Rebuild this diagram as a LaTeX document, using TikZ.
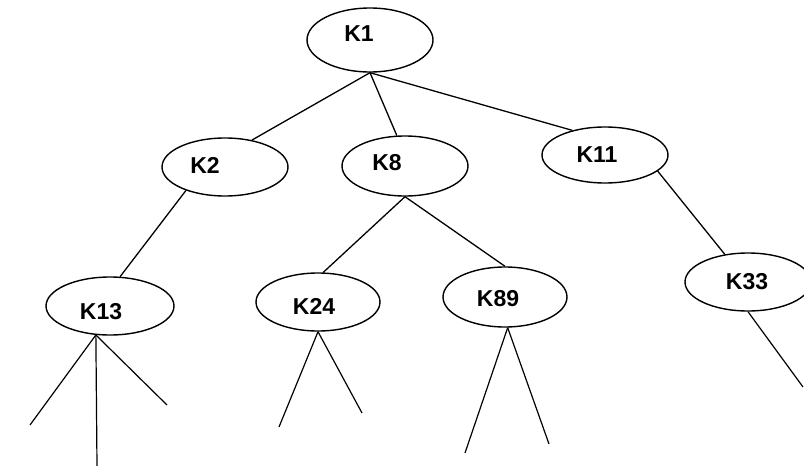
\documentclass[tikz,border=0pt]{standalone}
\usepackage{fontspec}
\setmainfont{Liberation Sans}
\usetikzlibrary{shapes.geometric}

\begin{document}
\begin{tikzpicture}[x=1pt,y=-1pt,line width=1.3pt,
		key/.style={ellipse,draw,line width=1.4pt,inner sep=0pt,minimum width=126pt,minimum height=58pt},
		tag/.style={inner sep=0pt,font=\fontsize{23}{27}\selectfont\bfseries},
		branch/.style={line width=1.2pt}
		]
			\useasboundingbox (0,0) rectangle (804,466);
			% keys
			\node[key,minimum height=64pt,label={[tag,xshift=-11pt,yshift=6pt]center:K1}] (K1) at (370,40) {};
			\node[key,label={[tag,xshift=-20pt,yshift=2pt]center:K2}] (K2) at (225,167) {};
			\node[key,minimum height=60pt,label={[tag,xshift=-18pt,yshift=3pt]center:K8}] (K8) at (405,166) {};
			\node[key,minimum height=56pt,label={[tag,xshift=-8pt]center:K11}] (K11) at (605,155) {};
			\node[key,minimum width=128pt,label={[tag,xshift=-9pt,yshift=-6pt]center:K13}] (K13) at (110,306) {};
			\node[key,minimum width=124pt,label={[tag,xshift=-4pt,yshift=-4pt]center:K24}] (K24) at (318,302) {};
			\node[key,minimum width=124pt,minimum height=60pt,label={[tag,xshift=-7pt,yshift=-2pt]center:K89}] (K89) at (505,297) {};
			\node[key,label={[tag,xshift=-1pt]center:K33}] (K33) at (748,282) {};
			% loose ends
			\coordinate (l1) at (30,425);
			\coordinate (l2) at (97,466);
			\coordinate (l3) at (167,405);
			\coordinate (l4) at (279,427);
			\coordinate (l5) at (362,413);
			\coordinate (l6) at (465,453);
			\coordinate (l7) at (549,444);
			\coordinate (l8) at (803,387);
			% links
			\draw (K1.south) -- (K2.45);
			\draw (K1.south) -- (K8.105);
			\draw (K1.south) -- (K11.143);
			\draw (K2.211) -- (K13.71);
			\draw (K8.south) -- (K24.80);
			\draw (K8.south) -- (K89.north);
			\draw (K11.343) -- (K33.130);
			\foreach \t in {l1,l2,l3}
				\draw[branch] (K13.244) -- (\t);
			\foreach \t in {l4,l5}
				\draw[branch] (K24.south) -- (\t);
			\foreach \t in {l6,l7}
				\draw[branch] (K89.-85) -- (\t);
			\draw[branch] (K33.south) -- (l8);
		\end{tikzpicture}
\end{document}
